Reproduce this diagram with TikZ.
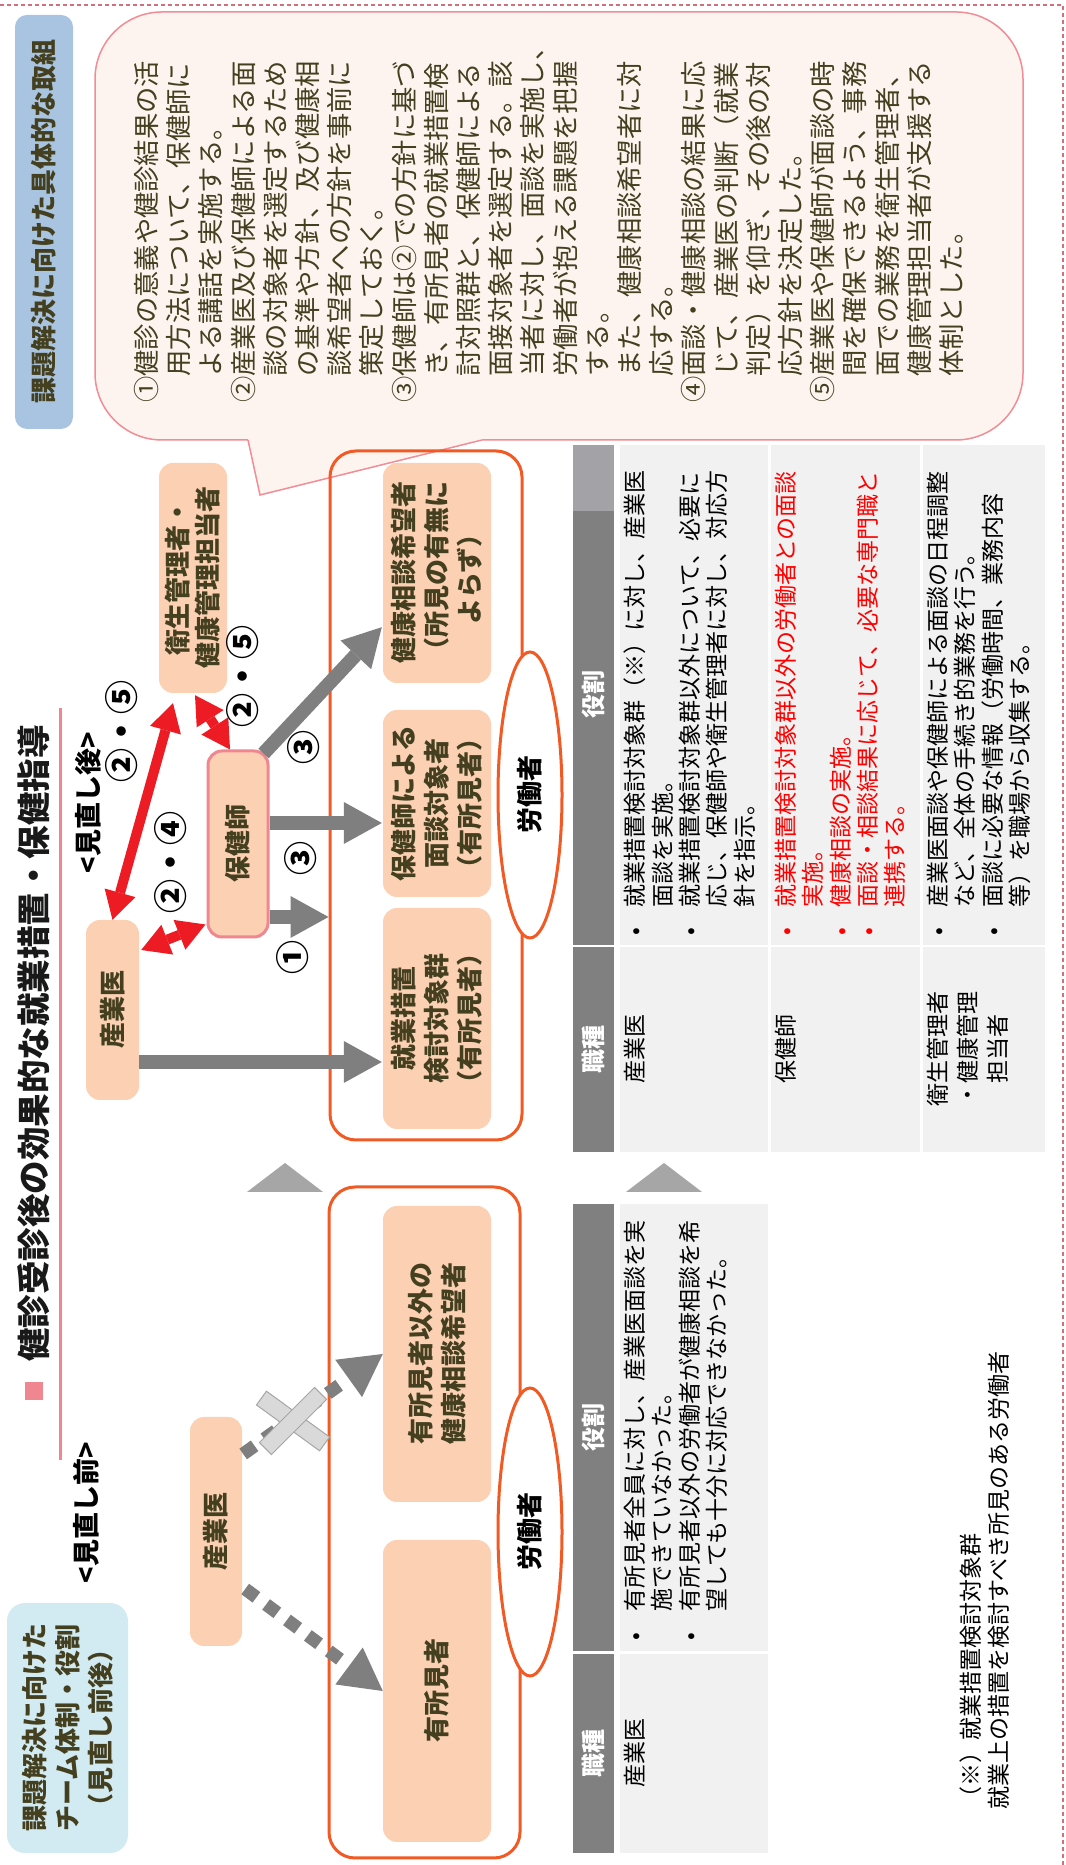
\documentclass[tikz,border=0pt]{standalone}
\usepackage{fontspec}
\setmainfont{Noto Sans CJK JP}
\usetikzlibrary{arrows.meta,calc,shapes.geometric}
\definecolor{peach}{HTML}{FCD0B3}
\definecolor{olive}{HTML}{433F1F}
\definecolor{orangeln}{HTML}{F15A24}
\definecolor{redc}{HTML}{ED1C24}
\definecolor{arrgray}{HTML}{7F7F7F}
\definecolor{hdrgray}{HTML}{808080}
\definecolor{hdrlight}{HTML}{A3A3A7}
\definecolor{cellgray}{HTML}{F1F1F1}
\definecolor{callfill}{HTML}{FEF4EF}
\definecolor{callline}{HTML}{F28C95}
\definecolor{bluelab}{HTML}{A9C4E0}
\definecolor{teallab}{HTML}{D2EAF1}
\definecolor{pinkc}{HTML}{F08790}
\definecolor{dashc}{HTML}{D0707C}
\definecolor{trigray}{HTML}{A6A6A6}
\definecolor{xfill}{HTML}{D9D9D9}
\tikzset{
  pbox/.style={fill=peach, rounded corners=14pt, inner sep=0pt, text=olive, align=center, font=\bfseries\fontsize{26}{33}\selectfont},
  outerbox/.style={draw=orangeln, line width=3pt, rounded corners=26pt, inner sep=0pt},
  worker/.style={ellipse, draw=orangeln, line width=3pt, fill=white, inner sep=0pt, font=\bfseries\fontsize{26}{30}\selectfont, text=black},
  hdr/.style={fill=hdrgray, inner sep=0pt, text=white, font=\bfseries\fontsize{24}{28}\selectfont},
  cellbox/.style={fill=cellgray, inner sep=0pt},
  ctext/.style={inner sep=0pt, align=left, font=\fontsize{23}{27.3}\selectfont, text=black},
  jtext/.style={inner sep=0pt, align=center, font=\fontsize{23}{30}\selectfont, text=black},
  garrow/.style={draw=arrgray, line width=14pt, arrows={-Triangle[length=38pt,width=42pt,line width=0pt]}},
  darrow/.style={draw=arrgray, line width=13pt, dash pattern=on 14pt off 12pt, arrows={-Triangle[length=42pt,width=46pt,line width=0pt]}},
  rarrow/.style={draw=redc, line width=10pt, arrows={Triangle[length=28pt,width=32pt,line width=0pt]-Triangle[length=28pt,width=32pt,line width=0pt]}},
  numlab/.style={inner sep=0pt, font=\bfseries\fontsize{34}{36}\selectfont, text=black},
  xbar/.style={rectangle, fill=xfill, draw=trigray, line width=1pt, minimum width=78pt, minimum height=17pt, inner sep=0pt},
}
\begin{document}
\begin{tikzpicture}[x=1pt,y=1pt]
\useasboundingbox (0,0) rectangle (1065,1865);
\fill[white] (0,0) rectangle (1065,1865);
\begin{scope}[rotate=90, transform shape, x=1pt, y=-1pt]
% frame
\draw[dashc, line width=1.2pt, dash pattern=on 4pt off 3pt] (0,1063) -- (1860,1063) -- (1860,0);

% callout
\filldraw[fill=callfill, draw=callline, line width=1.5pt, rounded corners=67pt] (1425,95) rectangle (1853,1023);
\fill[callfill] (1425,248) -- (1370,260) -- (1425,482) -- (1428,482) -- (1428,248) -- cycle;
\draw[callline, line width=1.5pt] (1425,248) -- (1370,260) -- (1425,482);
\node[inner sep=0pt, anchor=north west, align=left, text=olive, font=\fontsize{26.3}{32.2}\selectfont] (calltext) at (1462,134) {%
①健診の意義や健診結果の活\\
　用方法について、保健師に\\
　よる講話を実施する。\\
②産業医及び保健師による面\\
　談の対象者を選定するため\\
　の基準や方針、及び健康相\\
　談希望者への方針を事前に\\
　策定しておく。\\
③保健師は②での方針に基づ\\
　き、有所見者の就業措置検\\
　討対照群と、保健師による\\
　面接対象者を選定する。該\\
　当者に対し、面談を実施し、\\
　労働者が抱える課題を把握\\
　する。\\
　また、健康相談希望者に対\\
　応する。\\
④面談・健康相談の結果に応\\
　じて、産業医の判断（就業\\
　判定）を仰ぎ、その後の対\\
　応方針を決定した。\\
⑤産業医や保健師が面談の時\\
　間を確保できるよう、事務\\
　面での業務を衛生管理者、\\
　健康管理担当者が支援する\\
　体制とした。};
\node[fill=bluelab, rounded corners=12pt, inner sep=0pt, minimum width=414pt, minimum height=58pt, text=olive, font=\bfseries\fontsize{26}{30}\selectfont] (bluelabel) at (1643,44) {課題解決に向けた具体的な取組};

% title
\fill[pinkc] (465,25) rectangle (483,43);
\node[inner sep=0pt, anchor=west, font=\bfseries\fontsize{33.5}{36}\selectfont, text=black!90] (title) at (503,34) {健診受診後の効果的な就業措置・保健指導};
\draw[pinkc, line width=3pt] (405,60) -- (1157,60);
\node[inner sep=0pt, font=\bfseries\fontsize{27}{30}\selectfont] (headB) at (352,86) {<見直し前>};
\node[inner sep=0pt, font=\bfseries\fontsize{27}{30}\selectfont] (headA) at (1062,88) {<見直し後>};
\node[fill=teallab, rounded corners=18pt, inner sep=0pt, minimum width=250pt, minimum height=121pt, align=center, text=olive, font=\bfseries\fontsize{26}{33}\selectfont] (teal) at (137,67.5) {課題解決に向けた\\チーム体制・役割\\（見直し前後）};

% ---------- before ----------
\node[outerbox, minimum width=671pt, minimum height=191pt] (outerB) at (342.5,424.5) {};
\node[worker, minimum width=288pt, minimum height=64pt] (ellB) at (333,530) {労働者};
\node[pbox, minimum width=229pt, minimum height=52pt] (sanB) at (333.5,216) {産業医};
\node[pbox, minimum width=302pt, minimum height=108pt] (yuB) at (174,437) {有所見者};
\node[pbox, minimum width=296pt, minimum height=108pt] (igaiB) at (511,437) {有所見者以外の\\健康相談希望者};
\draw[darrow] ($(sanB.south)+(77.5,1)$) -- (igaiB.north);
\draw[darrow] ($(sanB.south)+(-57.5,3)$) -- (yuB.north);
\node[xbar, rotate=54] (xb1) at (444,293) {};
\node[xbar, rotate=-45] (xb2) at (444,293) {};

% triangles
\fill[trigray] (673,247) -- (702,285) -- (673,323) -- cycle;
\fill[trigray] (673,626) -- (702,664) -- (673,702) -- cycle;

% ---------- after ----------
\node[outerbox, minimum width=689pt, minimum height=192pt] (outerA) at (1069.5,426) {};
\node[worker, minimum width=286pt, minimum height=64pt] (ellA) at (1070,530) {労働者};
\node[pbox, minimum width=180pt, minimum height=53pt] (sanA) at (855,112.5) {産業医};
\node[pbox, draw=pinkc, line width=3pt, minimum width=186pt, minimum height=60pt] (hokA) at (1021,238) {保健師};
\node[pbox, minimum width=230pt, minimum height=68pt, font=\bfseries\fontsize{26}{30}\selectfont] (eiA) at (1287,193) {衛生管理者・\\健康管理担当者};
\node[pbox, minimum width=221pt, minimum height=108pt] (b1) at (846.5,437) {就業措置\\検討対象群\\（有所見者）};
\node[pbox, minimum width=187pt, minimum height=108pt] (b2) at (1061.5,437) {保健師による\\面談対象者\\（有所見者）};
\node[pbox, minimum width=220pt, minimum height=108pt] (b3) at (1292,437) {健康相談希望者\\（所見の有無に\\よらず）};

\draw[garrow] ($(sanA.south)+(-52,0)$) -- ($(b1.north)+(-43.5,-1)$);
\draw[garrow] ($(hokA.south)+(-73,0)$) -- ($(outerA.north)+(-121.5,0)$);
\draw[garrow] ($(hokA.south)+(21,0)$) -- ($(b2.north)+(-19.5,-1)$);
\draw[garrow] ($(hokA.south east)+(-4,-6)$) -- ($(b3.north west)+(56,-1)$);

\draw[rarrow] (sanA.east) -- ($(eiA.west)+(-10,-20)$);
\draw[rarrow] ($(sanA.south)+(60,2)$) -- ($(hokA.north west)+(14,-1)$);
\draw[rarrow] ($(hokA.east)+(0,-8)$) -- ($(eiA.west)+(-2,2)$);

\node[numlab] (n1) at (907,293) {①};
\node[numlab] (n3a) at (1006,301) {③};
\node[numlab] (n3b) at (1117,304) {③};
\node[numlab] (n24) at (1002,171) {②・④};
\node[numlab] (n25a) at (1133,122) {②・⑤};
\node[numlab] (n25b) at (1188,243) {②・⑤};

% ---------- tables ----------
\node[hdr, minimum width=199pt, minimum height=41pt] (hB1) at (111.5,593.5) {職種};
\node[hdr, minimum width=447pt, minimum height=41pt] (hB2) at (437.5,593.5) {役割};
\node[cellbox, minimum width=199pt, minimum height=148pt] (cB1) at (111.5,694) {};
\node[cellbox, minimum width=447pt, minimum height=148pt] (cB2) at (437.5,694) {};
\node[jtext, anchor=north] (tB1) at ($(cB1.north)+(0,4)$) {産業医};
\node[ctext, anchor=north west] (tB2) at (224,624) {\makebox[29pt][l]{•}有所見者全員に対し、産業医面談を実\\\hspace*{29pt}施できていなかった。\\\makebox[29pt][l]{•}有所見者以外の労働者が健康相談を希\\\hspace*{29pt}望しても十分に対応できなかった。};

\node[hdr, minimum width=205pt, minimum height=41pt] (hA1) at (815.5,593.5) {職種};
\node[hdr, minimum width=500pt, minimum height=41pt] (hA2) at (1170,593.5) {役割};
\fill[hdrlight] (1354,573) rectangle (1420,614);
\node[cellbox, minimum width=205pt, minimum height=148pt] (cA11) at (815.5,694) {};
\node[cellbox, minimum width=500pt, minimum height=148pt] (cA12) at (1170,694) {};
\node[cellbox, minimum width=205pt, minimum height=149pt] (cA21) at (815.5,845.5) {};
\node[cellbox, minimum width=500pt, minimum height=149pt] (cA22) at (1170,845.5) {};
\node[cellbox, minimum width=205pt, minimum height=122pt] (cA31) at (815.5,984) {};
\node[cellbox, minimum width=500pt, minimum height=122pt] (cA32) at (1170,984) {};

\node[jtext, anchor=north] (tA11) at ($(cA11.north)+(0,4)$) {産業医};
\node[jtext, anchor=north] (tA21) at ($(cA21.north)+(0,4)$) {保健師};
\node[jtext, anchor=north] (tA31) at ($(cA31.north)+(0,4)$) {衛生管理者\\・健康管理\\担当者};

\node[ctext, anchor=north west] (tA12) at (929,624) {\makebox[28pt][l]{•}就業措置検討対象群（※）に対し、産業医\\\hspace*{28pt}面談を実施。\\\makebox[28pt][l]{•}就業措置検討対象群以外について、必要に\\\hspace*{28pt}応じ、保健師や衛生管理者に対し、対応方\\\hspace*{28pt}針を指示。};
\node[ctext, anchor=north west, text=red] (tA22) at (929,775) {\makebox[28pt][l]{•}就業措置検討対象群以外の労働者との面談\\\hspace*{28pt}実施。\\\makebox[28pt][l]{•}健康相談の実施。\\\makebox[28pt][l]{•}面談・相談結果に応じて、必要な専門職と\\\hspace*{28pt}連携する。};
\node[ctext, anchor=north west] (tA32) at (929,927) {\makebox[28pt][l]{•}産業医面談や保健師による面談の日程調整\\\hspace*{28pt}など、全体の手続き的業務を行う。\\\makebox[28pt][l]{•}面談に必要な情報（労働時間、業務内容\\\hspace*{28pt}等）を職場から収集する。};

% note
\node[ctext, anchor=north west] (note) at (55,960) {（※）就業措置検討対象群\\就業上の措置を検討すべき所見のある労働者};
\end{scope}
\end{tikzpicture}
\end{document}
